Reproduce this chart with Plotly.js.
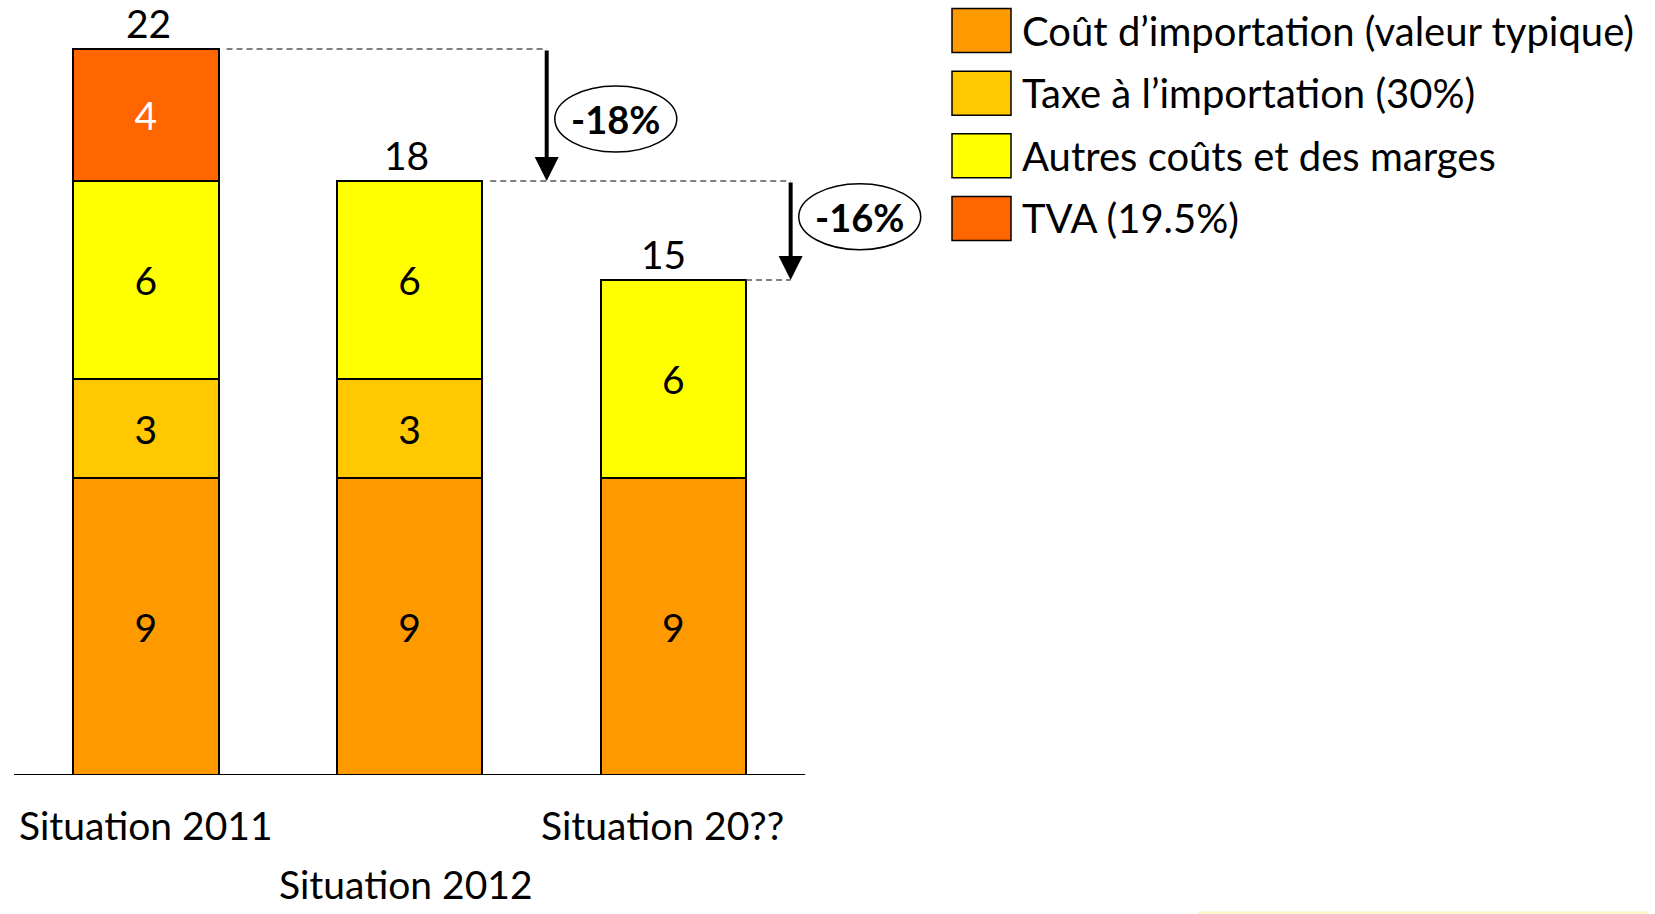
<!DOCTYPE html>
<html><head><meta charset="utf-8">
<script src="https://cdn.plot.ly/plotly-3.0.1.min.js"></script>
<style>html,body{margin:0;padding:0;background:#fff;overflow:hidden}</style>
</head><body><div id="chart" style="width:1655px;height:914px"></div>
<script>
// ---- data ----
const categories = ['Situation 2011', 'Situation 2012', 'Situation 20??'];
const seriesNames = ['Coût d’importation (valeur typique)', 'Taxe à l’importation (30%)', 'Autres coûts et des marges', 'TVA (19.5%)'];
const seriesColors = ['#FF9900', '#FFC800', '#FFFF00', '#FF6600'];
const labelColors = ['#000000', '#000000', '#000000', '#FFFFFF'];
const importCost = [9, 9, 9];
const importTax = [3, 3, null];
const otherCosts = [6, 6, 6];
const vat = [4, null, null];
const changeLabels = ['-18%', '-16%'];

// ---- layout constants ----
const FONT = 'Lato, "Open Sans", sans-serif';
const FS = 39;
const W = 1655, Ht = 914;
const M = {l: 14, r: 718, t: 0, b: 139};
const PW = W - M.l - M.r, PH = Ht - M.t - M.b;
const px2x = px => (px - M.l) / PW;
const py2y = py => (Ht - M.b - py) / PH;
const bargap = 0.448;
const half = (1 - bargap) / 2;
const arrowX = [1.52, 2.445];
const totalShift = [3, -3, -10];
const catShift = [0, -4, -11];
const catY = [825, 884, 825];

const seriesValues = [importCost, importTax, otherCosts, vat];
const totals = categories.map((c, i) => seriesValues.reduce((s, arr) => s + (arr[i] || 0), 0));

const traces = seriesValues.map((vals, k) => ({
  type: 'bar',
  name: seriesNames[k],
  x: categories,
  y: vals,
  text: vals.map(v => v == null ? '' : String(v)),
  textposition: 'inside',
  insidetextanchor: 'middle',
  textangle: 0,
  constraintext: 'none',
  textfont: {family: FONT, size: FS, color: labelColors[k]},
  marker: {color: seriesColors[k], line: {color: '#000', width: 2}},
  hoverinfo: 'skip'
}));

const shapes = [];
const annotations = [];

// baseline
shapes.push({type: 'line', xref: 'x', yref: 'y', x0: -0.5, x1: 2.5, y0: 0, y1: 0,
  line: {color: '#000', width: 2}});

// total labels
categories.forEach((c, i) => {
  annotations.push({xref: 'x', yref: 'y', x: i, y: totals[i], text: String(totals[i]),
    showarrow: false, yanchor: 'bottom', yshift: 1, xshift: totalShift[i],
    font: {family: FONT, size: FS, color: '#000'}});
});

// dashed guides + arrows + ellipses
const ellipseFrac = [0.53, 0.36];
for (let k = 0; k < totals.length - 1; k++) {
  shapes.push({type: 'line', xref: 'x', yref: 'y', x0: k + half + 0.03, x1: arrowX[k],
    y0: totals[k], y1: totals[k], line: {color: '#555', width: 1.5, dash: '6px,4px'}});
  annotations.push({xref: 'x', yref: 'y', axref: 'x', ayref: 'y',
    x: arrowX[k], y: totals[k + 1], ax: arrowX[k], ay: totals[k],
    text: '', showarrow: true, arrowhead: 2, arrowsize: 1.2, arrowwidth: 4,
    arrowcolor: '#000', standoff: 0, startstandoff: 0});
  const yc = totals[k] - ellipseFrac[k] * (totals[k] - totals[k + 1]);
  const xc = arrowX[k] + 0.262;
  shapes.push({type: 'circle', xref: 'x', yref: 'y', xsizemode: 'pixel', ysizemode: 'pixel',
    xanchor: xc, yanchor: yc, x0: -61, x1: 61, y0: -33, y1: 33,
    line: {color: '#000', width: 1.5}, fillcolor: 'rgba(0,0,0,0)'});
  annotations.push({xref: 'x', yref: 'y', x: xc, y: yc, text: '<b>' + changeLabels[k] + '</b>',
    showarrow: false, xanchor: 'center', yanchor: 'middle',
    font: {family: FONT, size: 38, color: '#000'}});
}
// last guide from bar 3 to arrow 2 tip
const last = totals.length - 1;
shapes.push({type: 'line', xref: 'x', yref: 'y', x0: last + half, x1: arrowX[last - 1],
  y0: totals[last], y1: totals[last], line: {color: '#555', width: 1.5, dash: '6px,4px'}});

// category labels (staggered like the original)
categories.forEach((c, i) => {
  annotations.push({xref: 'x', yref: 'paper', x: i, y: py2y(catY[i]), text: c,
    showarrow: false, xanchor: 'center', yanchor: 'middle', xshift: catShift[i],
    font: {family: FONT, size: FS, color: '#000'}});
});

// legend (large swatches)
seriesNames.forEach((name, k) => {
  const cy = 30.6 + k * 62.6;
  shapes.push({type: 'rect', xref: 'paper', yref: 'paper',
    x0: px2x(952), x1: px2x(1011), y0: py2y(cy - 22), y1: py2y(cy + 22),
    line: {color: '#000', width: 1.5}, fillcolor: seriesColors[k]});
  annotations.push({xref: 'paper', yref: 'paper', x: px2x(1020), y: py2y(cy), text: name,
    showarrow: false, xanchor: 'left', yanchor: 'middle',
    font: {family: FONT, size: 40, color: '#000'}});
});

// faint slide artefact at bottom right
shapes.push({type: 'line', xref: 'paper', yref: 'paper', x0: px2x(1198), x1: px2x(1648),
  y0: py2y(912.5), y1: py2y(912.5), line: {color: 'rgba(255,225,120,0.45)', width: 2}});

const layout = {
  width: W, height: Ht,
  margin: M,
  paper_bgcolor: '#fff', plot_bgcolor: '#fff',
  barmode: 'stack', bargap: bargap,
  showlegend: false,
  font: {family: FONT, size: FS, color: '#000'},
  xaxis: {type: 'category', range: [-0.5, 3.0], showticklabels: false, showline: false,
    showgrid: false, zeroline: false, ticks: '', fixedrange: true},
  yaxis: {range: [0, PH / 33], visible: false, showgrid: false, zeroline: false, fixedrange: true},
  shapes: shapes,
  annotations: annotations
};

Plotly.newPlot('chart', traces, layout, {staticPlot: true, displayModeBar: false});
</script>
</body></html>
